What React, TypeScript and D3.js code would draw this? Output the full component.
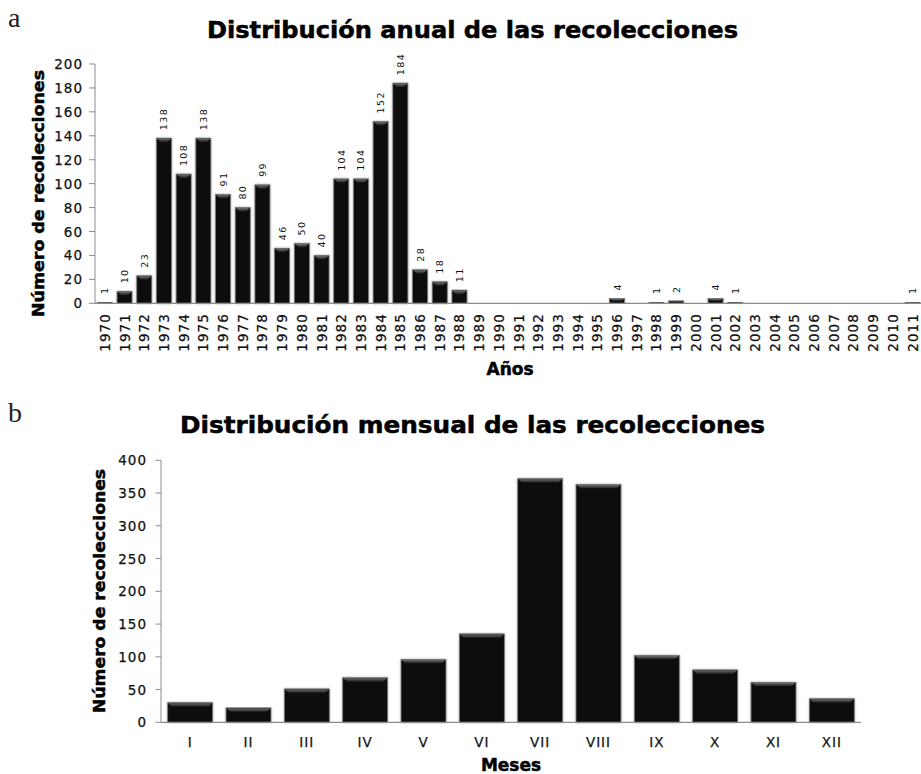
import React from "react";
import * as d3 from "d3";

const years: string[] = [
  "1970","1971","1972","1973","1974","1975","1976","1977","1978","1979",
  "1980","1981","1982","1983","1984","1985","1986","1987","1988","1989",
  "1990","1991","1992","1993","1994","1995","1996","1997","1998","1999",
  "2000","2001","2002","2003","2004","2005","2006","2007","2008","2009",
  "2010","2011",
];
const yearValues: number[] = [
  1,10,23,138,108,138,91,80,99,46,
  50,40,104,104,152,184,28,18,11,0,
  0,0,0,0,0,0,4,0,1,2,
  0,4,1,0,0,0,0,0,0,0,
  0,1,
];
const yearTicks: number[] = [0,20,40,60,80,100,120,140,160,180,200];

const months: string[] = ["I","II","III","IV","V","VI","VII","VIII","IX","X","XI","XII"];
const monthValues: number[] = [30,22,51,68,96,135,372,363,102,80,61,36];
const monthTicks: number[] = [0,50,100,150,200,250,300,350,400];

const FONT = "'DejaVu Sans', Verdana, sans-serif";
const AXIS = "#8c8c8c";

function Bar({ x, y, w, h }: { x: number; y: number; w: number; h: number }) {
  if (h <= 0) return null;
  const b = Math.min(4, h / 2);
  return (
    <g>
      <rect x={x} y={y} width={w} height={h} fill="#080808" stroke="#7a7a7a" strokeWidth={0.8} filter="url(#shadow)" />
      {h > 1.5 && (
        <polygon
          points={`${x + 0.5},${y + 0.5} ${x + w - 0.5},${y + 0.5} ${x + w - 0.5 - b},${y + b} ${x + 0.5 + b},${y + b}`}
          fill="url(#bevel)"
        />
      )}
    </g>
  );
}

export default function App() {
  const xTop = d3.scaleBand<string>().domain(years).range([95, 922.4]).paddingInner(0.24).paddingOuter(0.12);
  const yTop = d3.scaleLinear().domain([0, 200]).range([303.3, 64]);
  const xBot = d3.scaleBand<string>().domain(months).range([161, 861]).paddingInner(0.23).paddingOuter(0.115);
  const yBot = d3.scaleLinear().domain([0, 400]).range([722.3, 460.3]);

  const heavy = { stroke: "#000", strokeWidth: 0.5 };
  const mid = { stroke: "#111", strokeWidth: 0.25 };

  return (
    <svg width={921} height={774} style={{ position: "absolute", left: 0, top: 0, background: "#fff" }} fontFamily={FONT}>
      <defs>
        <linearGradient id="bevel" x1="0" y1="0" x2="0" y2="1">
          <stop offset="0%" stopColor="#707070" />
          <stop offset="100%" stopColor="#1a1a1a" />
        </linearGradient>
        <filter id="shadow" x="-20%" y="-5%" width="140%" height="110%">
          <feDropShadow dx="0" dy="0" stdDeviation="0.8" floodColor="#000" floodOpacity="0.35" />
        </filter>
      </defs>

      <text x={8} y={27} fontFamily="'Liberation Serif', serif" fontSize={28} fill="#222">a</text>
      <text x={8} y={422} fontFamily="'Liberation Serif', serif" fontSize={28} fill="#222">b</text>

      {/* ===== Top chart ===== */}
      <text x={472.5} y={38} textAnchor="middle" fontSize={22.5} fontWeight="bold" textLength={531} lengthAdjust="spacingAndGlyphs" {...heavy}>
        Distribución anual de las recolecciones
      </text>
      {yearValues.map((v, i) => (
        <Bar key={years[i]} x={xTop(years[i])!} y={yTop(v)} w={xTop.bandwidth()} h={yTop(0) - yTop(v)} />
      ))}
      <line x1={95} x2={95} y1={yTop(200)} y2={yTop(0)} stroke={AXIS} strokeWidth={1} />
      <line x1={95} x2={921} y1={yTop(0)} y2={yTop(0)} stroke={AXIS} strokeWidth={1.2} />
      {yearTicks.map((t) => (
        <g key={t}>
          <line x1={89} x2={95} y1={yTop(t)} y2={yTop(t)} stroke={AXIS} strokeWidth={1} />
          <text x={83} y={yTop(t)} textAnchor="end" dominantBaseline="central" fontSize={13.5} letterSpacing={1} fill="#111" {...mid}>
            {t}
          </text>
        </g>
      ))}
      {years.map((yr) => {
        const cx = xTop(yr)! + xTop.bandwidth() / 2;
        return (
          <text key={yr} transform={`translate(${cx},${313}) rotate(-90)`} textAnchor="end" dominantBaseline="central" fontSize={13.5} letterSpacing={1.1} fill="#111" {...mid}>
            {yr}
          </text>
        );
      })}
      {yearValues.map((v, i) => {
        if (v <= 0) return null;
        const cx = xTop(years[i])! + xTop.bandwidth() / 2;
        return (
          <text key={"l" + years[i]} transform={`translate(${cx},${yTop(v) - 8}) rotate(-90)`} textAnchor="start" dominantBaseline="central" fontSize={9.5} letterSpacing={1.4} fill="#111">
            {v}
          </text>
        );
      })}
      <text x={510} y={375} textAnchor="middle" fontSize={17} fontWeight="bold" {...heavy}>Años</text>
      <text transform={`translate(${44},${193.5}) rotate(-90)`} textAnchor="middle" fontSize={16.5} fontWeight="bold" textLength={247} lengthAdjust="spacingAndGlyphs" {...heavy}>
        Número de recolecciones
      </text>

      {/* ===== Bottom chart ===== */}
      <text x={472.5} y={433} textAnchor="middle" fontSize={22.5} fontWeight="bold" textLength={585} lengthAdjust="spacingAndGlyphs" {...heavy}>
        Distribución mensual de las recolecciones
      </text>
      {monthValues.map((v, i) => (
        <Bar key={months[i]} x={xBot(months[i])!} y={yBot(v)} w={xBot.bandwidth()} h={yBot(0) - yBot(v)} />
      ))}
      <line x1={161} x2={161} y1={yBot(400)} y2={yBot(0)} stroke={AXIS} strokeWidth={1} />
      <line x1={161} x2={861} y1={yBot(0)} y2={yBot(0)} stroke={AXIS} strokeWidth={1.2} />
      {monthTicks.map((t) => (
        <g key={t}>
          <line x1={155.5} x2={161} y1={yBot(t)} y2={yBot(t)} stroke={AXIS} strokeWidth={1} />
          <text x={147} y={yBot(t)} textAnchor="end" dominantBaseline="central" fontSize={13.5} letterSpacing={1} fill="#111" {...mid}>
            {t}
          </text>
        </g>
      ))}
      {months.map((m) => (
        <text key={m} x={xBot(m)! + xBot.bandwidth() / 2} y={742} textAnchor="middle" dominantBaseline="central" fontSize={13.5} letterSpacing={1} fill="#111" {...mid}>
          {m}
        </text>
      ))}
      <text x={511} y={771} textAnchor="middle" fontSize={17} fontWeight="bold" {...heavy}>Meses</text>
      <text transform={`translate(${105},${591}) rotate(-90)`} textAnchor="middle" fontSize={16.5} fontWeight="bold" textLength={244} lengthAdjust="spacingAndGlyphs" {...heavy}>
        Número de recolecciones
      </text>
    </svg>
  );
}
